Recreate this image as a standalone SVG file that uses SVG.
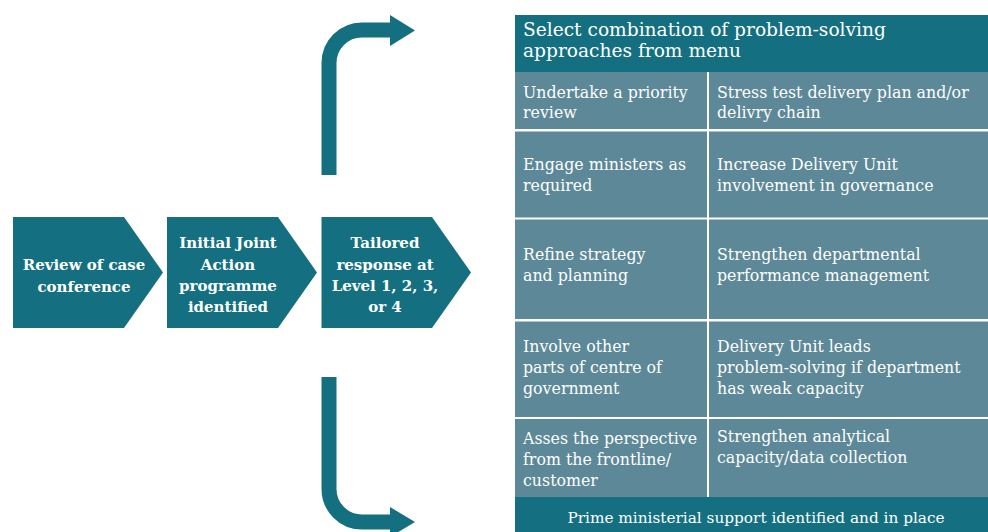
<svg xmlns="http://www.w3.org/2000/svg" width="988" height="532" viewBox="0 0 988 532">
<style>
.dark{fill:#146f80}
.cell{fill:#5c8897}
.ct{font-family:"DejaVu Serif","Liberation Serif",serif;font-weight:bold;font-size:15px;fill:#fff;text-anchor:middle}
.tt{font-family:"DejaVu Serif","Liberation Serif",serif;font-size:15.8px;fill:#fff}
.ht{font-family:"DejaVu Serif","Liberation Serif",serif;font-size:18.6px;fill:#fff}
.ft{font-family:"DejaVu Serif","Liberation Serif",serif;font-size:15.3px;fill:#fff;text-anchor:middle}
.conn{fill:none;stroke:#146f80;stroke-width:15}
</style>
<rect width="988" height="532" fill="#fff"/>
<g id="node-review">
<polygon class="dark" points="13,217 124,217 163,272.5 124,328 13,328"/>
<text class="ct"><tspan x="84" y="270">Review of case</tspan><tspan x="84" y="291.5">conference</tspan></text>
</g>
<g id="node-initial">
<polygon class="dark" points="167,217 278,217 317,272.5 278,328 167,328"/>
<text class="ct"><tspan x="228" y="248">Initial Joint</tspan><tspan x="228" y="269.5">Action</tspan><tspan x="228" y="291">programme</tspan><tspan x="228" y="312">identified</tspan></text>
</g>
<g id="node-tailored">
<polygon class="dark" points="321.5,217 432,217 471,272.5 432,328 321.5,328"/>
<text class="ct"><tspan x="385" y="248">Tailored</tspan><tspan x="385" y="269.5">response at</tspan><tspan x="385" y="291">Level 1, 2, 3,</tspan><tspan x="385" y="312">or 4</tspan></text>
</g>
<g id="connectors">
<path class="conn" d="M329 175 V63 A33 33 0 0 1 362 30 H392"/>
<polygon class="dark" points="390,15 415,30.5 390,46"/>
<path class="conn" d="M329 377 V489 A33 33 0 0 0 362 522 H392"/>
<polygon class="dark" points="390,507 415,522 390,537"/>
</g>
<g id="menu">
<rect class="dark" x="515" y="15" width="473" height="57"/>
<text class="ht"><tspan x="523" y="36">Select combination of problem-solving</tspan><tspan x="523" y="56.5">approaches from menu</tspan></text>
<rect class="cell" x="515" y="72" width="192" height="57"/>
<rect class="cell" x="709" y="72" width="279" height="57"/>
<rect class="cell" x="515" y="131.5" width="192" height="86"/>
<rect class="cell" x="709" y="131.5" width="279" height="86"/>
<rect class="cell" x="515" y="219.5" width="192" height="99.5"/>
<rect class="cell" x="709" y="219.5" width="279" height="99.5"/>
<rect class="cell" x="515" y="321.5" width="192" height="95.5"/>
<rect class="cell" x="709" y="321.5" width="279" height="95.5"/>
<rect class="cell" x="515" y="419" width="192" height="78"/>
<rect class="cell" x="709" y="419" width="279" height="78"/>
<rect class="dark" x="515" y="497" width="473" height="35"/>
<text class="tt"><tspan x="523" y="97.5">Undertake a priority</tspan><tspan x="523" y="118">review</tspan></text>
<text class="tt"><tspan x="717" y="97.5">Stress test delivery plan and/or</tspan><tspan x="717" y="118">delivry chain</tspan></text>
<text class="tt"><tspan x="523" y="170">Engage ministers as</tspan><tspan x="523" y="190.5">required</tspan></text>
<text class="tt"><tspan x="717" y="170">Increase Delivery Unit</tspan><tspan x="717" y="190.5">involvement in governance</tspan></text>
<text class="tt"><tspan x="523" y="260">Refine strategy</tspan><tspan x="523" y="281">and planning</tspan></text>
<text class="tt"><tspan x="717" y="260">Strengthen departmental</tspan><tspan x="717" y="281">performance management</tspan></text>
<text class="tt"><tspan x="523" y="351.5">Involve other</tspan><tspan x="523" y="372.5">parts of centre of</tspan><tspan x="523" y="394">government</tspan></text>
<text class="tt"><tspan x="717" y="351.5">Delivery Unit leads</tspan><tspan x="717" y="372.5">problem-solving if department</tspan><tspan x="717" y="394">has weak capacity</tspan></text>
<text class="tt"><tspan x="523" y="443.5">Asses the perspective</tspan><tspan x="523" y="465">from the frontline/</tspan><tspan x="523" y="486">customer</tspan></text>
<text class="tt"><tspan x="717" y="442">Strengthen analytical</tspan><tspan x="717" y="463">capacity/data collection</tspan></text>
<text class="ft" x="756" y="522.5">Prime ministerial support identified and in place</text>
</g>
</svg>
